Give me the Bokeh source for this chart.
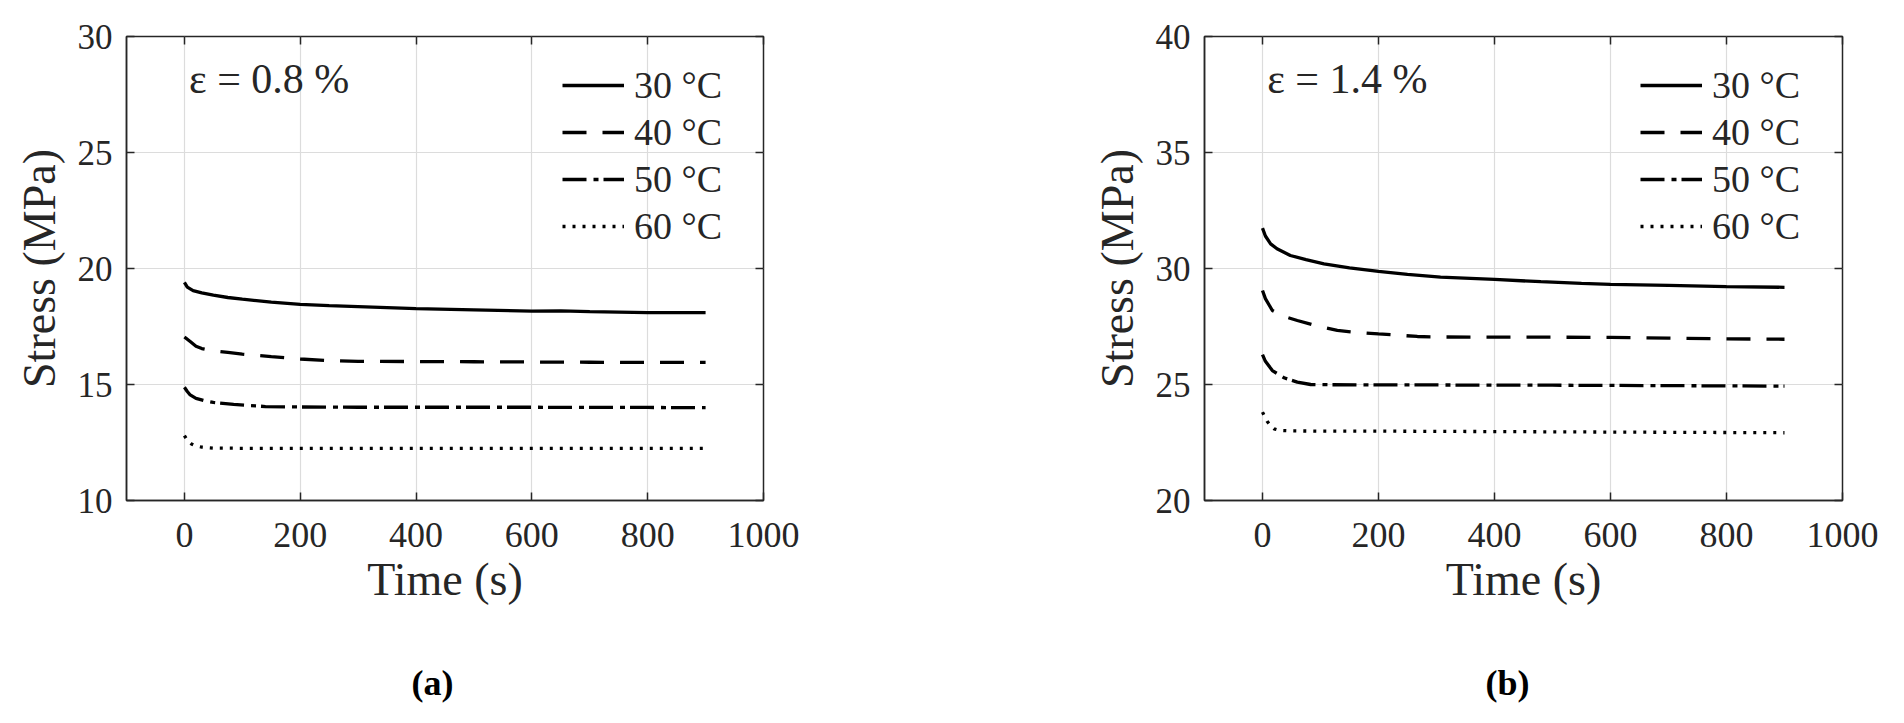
from bokeh.plotting import figure
from bokeh.models import (Range1d, FixedTicker, LinearAxis, Label, Legend,
                          LegendItem, CustomJSTickFormatter, Title)
from bokeh.layouts import row
from bokeh.embed import file_html
from bokeh.resources import INLINE

# ---------------- data ----------------
temps = ["30 °C", "40 °C", "50 °C", "60 °C"]
x_ticks = [0, 200, 400, 600, 800, 1000]
y_ticks_a = [10, 15, 20, 25, 30]
y_ticks_b = [20, 25, 30, 35, 40]

# (a) strain 0.8 %
t_a30 = [0, 5, 15, 30, 50, 75, 100, 150, 200, 250, 300, 400, 500, 600, 650, 700, 800, 900]
s_a30 = [19.4, 19.2, 19.05, 18.95, 18.85, 18.75, 18.68, 18.55, 18.45, 18.4, 18.36, 18.27,
         18.22, 18.16, 18.17, 18.14, 18.1, 18.1]
t_a40 = [0, 10, 20, 30, 50, 75, 100, 150, 200, 250, 300, 400, 500, 600, 700, 800, 900]
s_a40 = [17.05, 16.85, 16.65, 16.55, 16.45, 16.38, 16.31, 16.2, 16.1, 16.03, 16.0, 15.99,
         15.98, 15.97, 15.96, 15.95, 15.95]
t_a50 = [0, 5, 10, 20, 35, 50, 85, 140, 200, 300, 400, 500, 600, 700, 800, 900]
s_a50 = [14.88, 14.7, 14.55, 14.4, 14.3, 14.23, 14.14, 14.05, 14.03, 14.02, 14.02, 14.02,
         14.02, 14.01, 14.01, 14.0]
t_a60 = [0, 5, 12, 20, 30, 50, 100, 200, 300, 400, 500, 600, 700, 800, 900]
s_a60 = [12.8, 12.6, 12.44, 12.35, 12.3, 12.26, 12.25, 12.25, 12.25, 12.25, 12.25, 12.25,
         12.25, 12.25, 12.25]

# (b) strain 1.4 %
t_b30 = [0, 5, 14, 25, 48, 75, 106, 150, 200, 250, 307, 400, 480, 550, 600, 700, 800, 900]
s_b30 = [31.74, 31.4, 31.06, 30.85, 30.56, 30.38, 30.2, 30.03, 29.88, 29.75, 29.63, 29.53,
         29.43, 29.36, 29.32, 29.27, 29.22, 29.19]
t_b40 = [0, 5, 17, 35, 60, 90, 129, 160, 200, 267, 300, 400, 500, 600, 700, 800, 900]
s_b40 = [29.05, 28.7, 28.19, 27.95, 27.76, 27.55, 27.33, 27.25, 27.18, 27.07, 27.05, 27.04,
         27.04, 27.03, 27.0, 26.97, 26.95]
t_b50 = [0, 5, 17, 37, 60, 83, 120, 200, 300, 400, 500, 600, 700, 800, 900]
s_b50 = [26.29, 26.0, 25.6, 25.29, 25.1, 25.0, 24.99, 24.98, 24.98, 24.97, 24.97, 24.96,
         24.95, 24.94, 24.93]
t_b60 = [0, 4, 8, 14, 20, 30, 50, 100, 200, 300, 400, 500, 600, 700, 800, 900]
s_b60 = [23.81, 23.6, 23.42, 23.22, 23.09, 23.02, 23.0, 22.99, 22.99, 22.98, 22.97, 22.96,
         22.95, 22.94, 22.93, 22.92]

# ---------------- styling ----------------
FONT = "Liberation Serif"
INK = "#262626"
DASHES = ["solid", "24 16", "24 7 5 5", "3 7"]
WIDTHS = [3.3, 3.3, 3.3, 3.3]


def make_panel(series, y_range, y_ticks, strain_label, caption, frame_w,
               border_left, border_right, ann_x, ann_y, cap_offset):
    p = figure(frame_width=frame_w, frame_height=464,
               x_range=Range1d(-100, 1000), y_range=Range1d(*y_range),
               output_backend="svg", toolbar_location=None,
               min_border_left=border_left, min_border_right=border_right,
               min_border_top=36, min_border_bottom=60,
               background_fill_color="white", border_fill_color="white")
    p.outline_line_color = INK
    p.outline_line_width = 1.5
    p.outline_line_alpha = 1.0

    for ax, ticks in ((p.xaxis[0], x_ticks), (p.yaxis[0], y_ticks)):
        ax.ticker = FixedTicker(ticks=ticks)
        ax.major_tick_in = 8
        ax.major_tick_out = 0
        ax.minor_tick_line_color = None
        ax.major_tick_line_color = INK
        ax.major_tick_line_width = 1.5
        ax.axis_line_color = INK
        ax.axis_line_width = 1.5
        ax.major_label_text_font = FONT
        ax.major_label_text_color = INK
        ax.axis_label_text_font = FONT
        ax.axis_label_text_font_size = "46px"
        ax.axis_label_text_font_style = "normal"
        ax.axis_label_text_color = INK

    p.xaxis[0].major_label_text_font_size = "36px"
    p.yaxis[0].major_label_text_font_size = "35px"
    p.xaxis[0].axis_label = "Time (s)"
    p.xaxis[0].major_label_standoff = 22
    p.xaxis[0].axis_label_standoff = 4
    p.yaxis[0].axis_label = "Stress (MPa)"
    p.yaxis[0].major_label_standoff = 14
    p.yaxis[0].axis_label_standoff = 10

    # mirrored tick marks on top and right
    blank = CustomJSTickFormatter(code="return ''")
    top = LinearAxis(ticker=FixedTicker(ticks=x_ticks), formatter=blank,
                     major_tick_in=8, major_tick_out=0,
                     major_tick_line_color=INK, major_tick_line_width=1.5,
                     minor_tick_line_color=None, axis_line_color=None)
    right = LinearAxis(ticker=FixedTicker(ticks=y_ticks), formatter=blank,
                       major_tick_in=8, major_tick_out=0,
                       major_tick_line_color=INK, major_tick_line_width=1.5,
                       minor_tick_line_color=None, axis_line_color=None)
    p.add_layout(top, "above")
    p.add_layout(right, "right")

    p.grid.grid_line_color = "#dcdcdc"
    p.grid.grid_line_width = 1.2
    p.xgrid.ticker = FixedTicker(ticks=x_ticks)
    p.ygrid.ticker = FixedTicker(ticks=y_ticks)

    items = []
    for (t, s), name, dash, w in zip(series, temps, DASHES, WIDTHS):
        r = p.line(t, s, line_color="black", line_width=w, line_dash=dash)
        items.append(LegendItem(label=name, renderers=[r]))

    legend = Legend(items=items, location=(436, 252),
                    glyph_width=62, glyph_height=40, label_height=40,
                    spacing=3, label_standoff=10, padding=0, margin=0,
                    border_line_color=None, background_fill_alpha=0,
                    label_text_font=FONT, label_text_font_size="38px",
                    label_text_color=INK)
    p.add_layout(legend)

    p.add_layout(Label(x=ann_x, y=ann_y, text=strain_label, text_font=FONT,
                       text_font_size="42px", text_color=INK,
                       text_baseline="middle", text_align="left"))

    # caption "(a)" / "(b)" under the panel
    p.add_layout(Title(text=caption, align="left", offset=cap_offset, standoff=107,
                       text_font=FONT, text_font_size="36px",
                       text_font_style="bold", text_color="black"), "below")
    return p


p1 = make_panel([(t_a30, s_a30), (t_a40, s_a40), (t_a50, s_a50), (t_a60, s_a60)],
                (10, 30), y_ticks_a, "ε = 0.8 %", "(a)", 637, 126, 197,
                8, 28.15, 285)
p2 = make_panel([(t_b30, s_b30), (t_b40, s_b40), (t_b50, s_b50), (t_b60, s_b60)],
                (20, 40), y_ticks_b, "ε = 1.4 %", "(b)", 638, 244, 58,
                8, 38.15, 281)

layout = row(p1, p2)
open("out.html", "w").write(file_html(layout, INLINE))
